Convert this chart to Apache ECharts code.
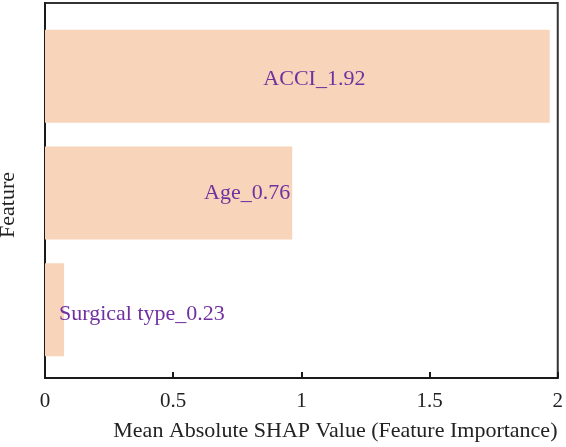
<!DOCTYPE html>
<html>
<head>
<meta charset="utf-8">
<script src="https://cdn.jsdelivr.net/npm/echarts@6/dist/echarts.min.js"></script>
<style>html,body{margin:0;padding:0;background:#fff;}#c{width:566px;height:447px;}</style>
</head>
<body>
<div id="c"></div>
<script>
const categories = ['ACCI', 'Age', 'Surgical type'];
const barValues = [1.96, 0.96, 0.074];
const labelTexts = ['ACCI_1.92', 'Age_0.76', 'Surgical type_0.23'];
const xTicks = [0, 0.5, 1, 1.5, 2];

const FONT = '"Liberation Serif", "DejaVu Serif", serif';
const labelStyles = [
  { position: 'inside', offset: [17, 3] },
  { position: 'insideRight', distance: 2, offset: [0, 0] },
  { position: 'insideLeft', distance: 14, offset: [0, 5] }
];

const chart = echarts.init(document.getElementById('c'), null, { renderer: 'canvas' });
chart.setOption({
  animation: false,
  backgroundColor: '#fff',
  grid: [
    { left: 45, right: 6, top: 18, bottom: 79 },
    { left: 45, right: 5, top: 3, bottom: 64, show: true, borderColor: '#333', borderWidth: 2, backgroundColor: 'rgba(0,0,0,0)' }
  ],
  xAxis: [
    { gridIndex: 0, type: 'value', min: xTicks[0], max: xTicks[xTicks.length - 1], show: false },
    {
      gridIndex: 1, type: 'value', position: 'bottom', min: xTicks[0], max: xTicks[xTicks.length - 1], interval: 0.5,
      axisLine: { show: true, onZero: false, lineStyle: { color: '#1a1a1a', width: 2 } },
      axisTick: { show: true, inside: true, length: 6, lineStyle: { color: '#1a1a1a', width: 2 } },
      axisLabel: { color: '#222', fontFamily: FONT, fontSize: 21, margin: 13 },
      splitLine: { show: false },
      name: 'Mean Absolute SHAP Value (Feature Importance)',
      nameLocation: 'middle', nameGap: 42,
      nameTextStyle: { color: '#222', fontFamily: FONT, fontSize: 22, padding: [0, 0, 0, 68] }
    }
  ],
  yAxis: [
    { gridIndex: 0, type: 'category', data: categories, inverse: true, show: false },
    {
      gridIndex: 1, type: 'value', position: 'left', min: 0, max: 1,
      axisLine: { show: true, onZero: false, lineStyle: { color: '#1a1a1a', width: 2 } },
      axisTick: { show: false }, axisLabel: { show: false }, splitLine: { show: false }
    }
  ],
  graphic: [{
    type: 'text', x: 8, y: 205, rotation: Math.PI / 2,
    style: { text: 'Feature', fill: '#222', font: '22px ' + FONT, align: 'center', verticalAlign: 'middle' }
  }],
  series: [{
    type: 'bar', xAxisIndex: 0, yAxisIndex: 0, barWidth: 93,
    itemStyle: { color: '#F8D4BA' },
    data: barValues.map((v, i) => ({
      value: v,
      label: Object.assign({
        show: true, formatter: labelTexts[i], color: '#7030A0',
        fontFamily: FONT, fontSize: 22
      }, labelStyles[i])
    }))
  }]
});
</script>
</body>
</html>
